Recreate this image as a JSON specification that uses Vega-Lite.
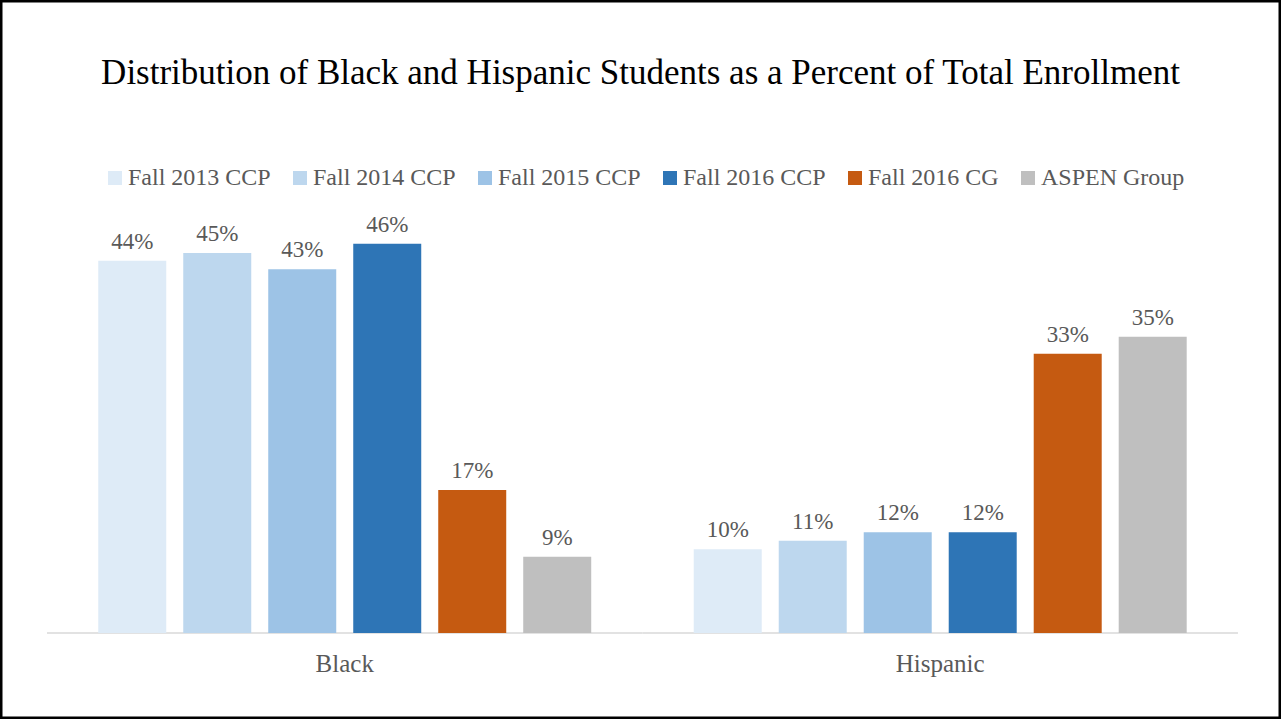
{
  "$schema": "https://vega.github.io/schema/vega-lite/v6.json",
  "width": 1281,
  "height": 719,
  "autosize": {"type": "none"},
  "padding": 0,
  "background": "white",
  "title": {
    "text": "Distribution of Black and Hispanic Students as a Percent of Total Enrollment",
    "frame": "group",
    "anchor": "middle",
    "orient": "top",
    "offset": -119,
    "baseline": "alphabetic",
    "font": "Liberation Serif",
    "fontSize": 35,
    "fontWeight": "normal",
    "color": "#000000"
  },
  "config": {
    "view": {"stroke": "#000000", "strokeWidth": 5},
    "font": "Liberation Serif"
  },
  "data": {
    "values": [
      {"group": "Black", "series": "Fall 2013 CCP", "value": 0.44},
      {"group": "Black", "series": "Fall 2014 CCP", "value": 0.449},
      {"group": "Black", "series": "Fall 2015 CCP", "value": 0.43},
      {"group": "Black", "series": "Fall 2016 CCP", "value": 0.46},
      {"group": "Black", "series": "Fall 2016 CG", "value": 0.169},
      {"group": "Black", "series": "ASPEN Group", "value": 0.09},
      {"group": "Hispanic", "series": "Fall 2013 CCP", "value": 0.099},
      {"group": "Hispanic", "series": "Fall 2014 CCP", "value": 0.109},
      {"group": "Hispanic", "series": "Fall 2015 CCP", "value": 0.119},
      {"group": "Hispanic", "series": "Fall 2016 CCP", "value": 0.119},
      {"group": "Hispanic", "series": "Fall 2016 CG", "value": 0.33},
      {"group": "Hispanic", "series": "ASPEN Group", "value": 0.35}
    ]
  },
  "encoding": {
    "x": {
      "field": "group",
      "type": "nominal",
      "sort": ["Black", "Hispanic"],
      "scale": {"paddingInner": 0, "paddingOuter": 0.0756, "align": 0.522},
      "axis": null
    }
  },
  "layer": [
    {
      "data": {"values": [{"group": "Black"}, {"group": "Hispanic"}]},
      "mark": {"type": "rule", "color": "#D9D9D9", "strokeWidth": 1.5},
      "encoding": {
        "x": {"field": "group", "type": "nominal", "bandPosition": 0},
        "x2": {"field": "group", "bandPosition": 1},
        "y": {"datum": 0, "type": "quantitative", "scale": {"domain": [-0.1017, 0.7482], "nice": false, "zero": false}, "axis": null}
      }
    },
    {
      "mark": {"type": "bar"},
      "encoding": {
        "xOffset": {
          "field": "series",
          "type": "nominal",
          "sort": ["Fall 2013 CCP", "Fall 2014 CCP", "Fall 2015 CCP", "Fall 2016 CCP", "Fall 2016 CG", "ASPEN Group"],
          "scale": {"paddingInner": 0.2, "paddingOuter": 0.603}
        },
        "y": {"field": "value", "type": "quantitative"},
        "color": {
          "field": "series",
          "type": "nominal",
          "sort": ["Fall 2013 CCP", "Fall 2014 CCP", "Fall 2015 CCP", "Fall 2016 CCP", "Fall 2016 CG", "ASPEN Group"],
          "scale": {
            "domain": ["Fall 2013 CCP", "Fall 2014 CCP", "Fall 2015 CCP", "Fall 2016 CCP", "Fall 2016 CG", "ASPEN Group"],
            "range": ["#DEEBF7", "#BDD7EE", "#9DC3E6", "#2E75B6", "#C55A11", "#BFBFBF"]
          },
          "legend": {
            "orient": "none",
            "legendX": 103,
            "legendY": 166,
            "direction": "horizontal",
            "columns": 6,
            "title": null,
            "symbolType": "square",
            "symbolSize": 196,
            "symbolStrokeWidth": 0,
            "labelFontSize": 24,
            "labelFont": "Liberation Serif",
            "labelColor": "#595959",
            "labelOffset": 1,
            "columnPadding": 17,
            "labelLimit": 0,
            "padding": 0
          }
        }
      }
    },
    {
      "mark": {"type": "text", "baseline": "alphabetic", "dy": -12, "fontSize": 23, "color": "#595959", "font": "Liberation Serif"},
      "encoding": {
        "xOffset": {
          "field": "series",
          "type": "nominal",
          "sort": ["Fall 2013 CCP", "Fall 2014 CCP", "Fall 2015 CCP", "Fall 2016 CCP", "Fall 2016 CG", "ASPEN Group"]
        },
        "y": {"field": "value", "type": "quantitative"},
        "text": {"field": "value", "type": "quantitative", "format": ".0%"}
      }
    },
    {
      "data": {"values": [{"group": "Black"}, {"group": "Hispanic"}]},
      "mark": {"type": "text", "baseline": "alphabetic", "fontSize": 25, "color": "#595959", "font": "Liberation Serif"},
      "encoding": {
        "y": {"datum": -0.046, "type": "quantitative"},
        "text": {"field": "group", "type": "nominal"}
      }
    }
  ]
}
